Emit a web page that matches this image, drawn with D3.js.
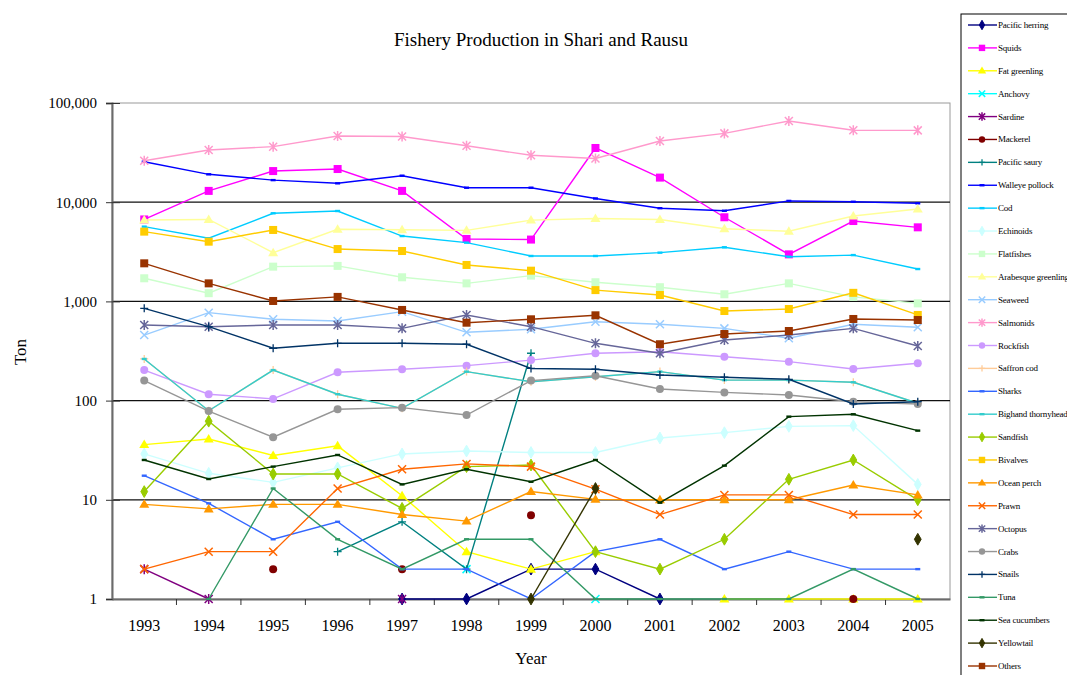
<!DOCTYPE html>
<html>
<head>
<meta charset="utf-8">
<script src="https://cdn.jsdelivr.net/npm/d3@7"></script>
<style>
  body { margin: 0; background: #fff; }
  text { font-family: "Liberation Serif", "Times New Roman", serif; fill: #000; }
</style>
</head>
<body>
<div id="chart"></div>
<script>
// years on the x axis
var years = [1993, 1994, 1995, 1996, 1997, 1998, 1999, 2000, 2001, 2002, 2003, 2004, 2005];

// production in tons, null = no catch recorded
var pacificHerring = [null, null, null, null, 1, 1, 2, 2, 1, null, null, null, null];
var squids = [6700, 13000, 20600, 21600, 13000, 4260, 4200, 35200, 17700, 7050, 2980, 6460, 5580];
var fatGreenling = [36, 41, 28, 35, 11, 3, 2, 3, null, 1, 1, 1, 1];
var anchovy = [null, null, null, null, null, 2, null, 1, null, null, null, null, null];
var sardine = [2, 1, null, null, 1, null, null, null, null, null, null, null, null];
var mackerel = [null, null, 2, null, 2, null, 7, null, null, null, null, 1, null];
var pacificSaury = [null, null, null, 3, 6, 2, 300, null, null, null, null, null, null];
var walleyePollock = [25600, 19100, 16700, 15500, 18500, 14000, 14000, 10900, 8700, 8200, 10300, 10100, 9750];
var cod = [5670, 4330, 7730, 8150, 4560, 3910, 2870, 2870, 3100, 3510, 2820, 2930, 2120];
var echinoids = [29, 18.5, 15, 21, 29, 31, 30, 30, 42, 47.5, 55, 56, 14.3];
var flatfishes = [1710, 1210, 2240, 2280, 1750, 1520, 1820, 1560, 1390, 1180, 1520, 1110, 955];
var arabesqueGreenling = [6610, 6700, 3100, 5330, 5270, 5200, 6600, 6850, 6700, 5400, 5100, 7260, 8530];
var seaweed = [458, 770, 660, 634, 788, 488, 524, 624, 588, 535, 425, 588, 548];
var salmonids = [26200, 33600, 36300, 46500, 46000, 37100, 29700, 27600, 41400, 49400, 65900, 53100, 53000];
var rockfish = [203, 116, 104, 193, 207, 225, 256, 300, 311, 277, 247, 208, 238];
var saffronCod = [263, 79, 203, 116, 83.5, 196, 155, 174, 196, 161, 161, 153, 94];
var sharks = [17.5, 9.2, 4, 6, 2, 2, 1, 3, 4, 2, 3, 2, 2];
var bighandThornyhead = [263, 79, 203, 116, 83.5, 196, 155, 174, 196, 161, 161, 153, 94];
var sandfish = [12.1, 62, 18.2, 18.2, 8.2, 21.6, 22.4, 3, 2, 4, 16.1, 25.2, 10];
var bivalves = [5050, 4000, 5250, 3370, 3220, 2330, 2040, 1300, 1160, 800, 838, 1220, 730];
var oceanPerch = [9, 8.1, 9, 9, 7.1, 6.1, 12.1, 10.1, 10, 10, 10, 14.1, 11.2];
var prawn = [2, 3, 3, 13, 20.3, 23, 21.6, 12.8, 7.1, 11.2, 11.2, 7.1, 7.1];
var octopus = [578, 556, 578, 578, 535, 730, 556, 378, 300, 408, 458, 535, 355];
var crabs = [159, 78.5, 42.7, 81.7, 84.9, 71.6, 159, 178, 131, 121, 114, 97.5, 92.5];
var snails = [852, 556, 337, 378, 378, 370, 211, 207, 181, 172, 164, 92.5, 97.5];
var tuna = [null, 1, 13, 4, 2, 4, 4, 1, 1, 1, 1, 2, 1];
var seaCucumbers = [25.2, 16.2, 21.6, 28.3, 14.3, 20.3, 15.2, 25.2, 9.35, 22.1, 68.9, 72.8, 49.8];
var yellowtail = [null, null, null, null, null, null, 1, 13, null, null, null, null, 4];
var others = [2420, 1520, 1010, 1110, 820, 610, 660, 724, 370, 469, 503, 665, 649];

var yTicks = [1, 10, 100, 1000, 10000, 100000];

// series in Excel drawing order
var series = [
  ["Pacific herring", pacificHerring, "#000080", "diamond"],
  ["Squids", squids, "#FF00FF", "square"],
  ["Fat greenling", fatGreenling, "#FFFF00", "triangle"],
  ["Anchovy", anchovy, "#00FFFF", "x"],
  ["Sardine", sardine, "#800080", "star"],
  ["Mackerel", mackerel, "#800000", "circle"],
  ["Pacific saury", pacificSaury, "#008080", "plus"],
  ["Walleye pollock", walleyePollock, "#0000FF", "dash"],
  ["Cod", cod, "#00CCFF", "dash"],
  ["Echinoids", echinoids, "#CCFFFF", "diamond"],
  ["Flatfishes", flatfishes, "#CCFFCC", "square"],
  ["Arabesque greenling", arabesqueGreenling, "#FFFF99", "triangle"],
  ["Seaweed", seaweed, "#99CCFF", "x"],
  ["Salmonids", salmonids, "#FF99CC", "star"],
  ["Rockfish", rockfish, "#CC99FF", "circle"],
  ["Saffron cod", saffronCod, "#FFCC99", "plus"],
  ["Sharks", sharks, "#3366FF", "dash"],
  ["Bighand thornyhead", bighandThornyhead, "#33CCCC", "dash"],
  ["Sandfish", sandfish, "#99CC00", "diamond"],
  ["Bivalves", bivalves, "#FFCC00", "square"],
  ["Ocean perch", oceanPerch, "#FF9900", "triangle"],
  ["Prawn", prawn, "#FF6600", "x"],
  ["Octopus", octopus, "#666699", "star"],
  ["Crabs", crabs, "#969696", "circle"],
  ["Snails", snails, "#003366", "plus"],
  ["Tuna", tuna, "#339966", "dash"],
  ["Sea cucumbers", seaCucumbers, "#003300", "dash"],
  ["Yellowtail", yellowtail, "#333300", "diamond"],
  ["Others", others, "#993300", "square"]
];

const W = 1067, H = 675;
const plot = { left: 112, right: 950, top: 103, bottom: 599 };

var svg = d3.select("#chart").append("svg")
  .attr("width", W)
  .attr("height", H);

var x = d3.scaleBand()
  .domain(years)
  .range([plot.left, plot.right]);

var y = d3.scaleLog()
  .domain([1, 100000])
  .range([plot.bottom, plot.top]);

var cx = function(yr) { return x(yr) + x.bandwidth() / 2; };

// title
svg.append("text")
  .attr("x", 541)
  .attr("y", 46)
  .attr("text-anchor", "middle")
  .style("font-size", "19px")
  .text("Fishery Production in Shari and Rausu");

// plot frame
svg.append("rect")
  .attr("x", plot.left)
  .attr("y", plot.top)
  .attr("width", plot.right - plot.left)
  .attr("height", plot.bottom - plot.top)
  .attr("fill", "none")
  .attr("stroke", "#9a9a9a")
  .attr("stroke-width", 1);

// gridlines
svg.append("g")
  .selectAll("line")
  .data(yTicks.slice(1, -1))
  .enter()
  .append("line")
  .attr("x1", plot.left)
  .attr("x2", plot.right)
  .attr("y1", d => y(d))
  .attr("y2", d => y(d))
  .attr("stroke", "#111")
  .attr("stroke-width", 1.3);

// y axis
var yAxis = svg.append("g")
  .attr("transform", "translate(" + plot.left + ",0)")
  .call(d3.axisLeft(y).tickValues(yTicks).tickFormat(d3.format(",")).tickSize(6).tickPadding(9));
yAxis.select(".domain").attr("stroke", "#6b6b6b").attr("stroke-width", 2);
yAxis.selectAll(".tick line").attr("stroke", "#333").attr("x2", 8).attr("x1", -6);
yAxis.selectAll(".tick text")
  .style("font-family", "'Liberation Serif', serif")
  .style("font-size", "15px")
  .attr("fill", "#000");

// x axis
var xAxis = svg.append("g")
  .attr("transform", "translate(0," + plot.bottom + ")")
  .call(d3.axisBottom(x).tickSize(0).tickPadding(21));
xAxis.select(".domain").attr("stroke", "#6b6b6b").attr("stroke-width", 2);
xAxis.selectAll(".tick text")
  .style("font-family", "'Liberation Serif', serif")
  .style("font-size", "16px")
  .attr("fill", "#000");

// x ticks between categories
svg.append("g")
  .selectAll("line")
  .data(years.slice(1))
  .enter()
  .append("line")
  .attr("x1", d => x(d))
  .attr("x2", d => x(d))
  .attr("y1", plot.bottom)
  .attr("y2", plot.bottom + 6)
  .attr("stroke", "#333");

// axis titles
svg.append("text")
  .attr("x", 531)
  .attr("y", 664)
  .attr("text-anchor", "middle")
  .style("font-size", "17px")
  .text("Year");

svg.append("text")
  .attr("transform", "translate(26,352) rotate(-90)")
  .attr("text-anchor", "middle")
  .style("font-size", "17px")
  .text("Ton");

// marker drawing
function marker(g, type, color, s) {
  s = s || 1;
  var r = 4 * s;
  if (type === "diamond") {
    g.append("path").attr("d", d3.symbol(d3.symbolDiamond, 40 * s * s)())
      .attr("fill", color).attr("stroke", color);
  } else if (type === "square") {
    g.append("rect").attr("x", -r).attr("y", -r).attr("width", 2 * r).attr("height", 2 * r)
      .attr("fill", color);
  } else if (type === "triangle") {
    g.append("path").attr("d", "M0," + (-r - 1) + "L" + (r + 1) + "," + (r - 0.5) + "L" + (-r - 1) + "," + (r - 0.5) + "Z")
      .attr("fill", color);
  } else if (type === "circle") {
    g.append("circle").attr("r", r).attr("fill", color);
  } else if (type === "x") {
    g.append("path").attr("d", "M" + -r + "," + -r + "L" + r + "," + r + "M" + -r + "," + r + "L" + r + "," + -r)
      .attr("stroke", color).attr("stroke-width", 1.5);
  } else if (type === "star") {
    g.append("path").attr("d", "M" + -r + "," + -r + "L" + r + "," + r + "M" + -r + "," + r + "L" + r + "," + -r + "M0," + (-r - 1) + "L0," + (r + 1))
      .attr("stroke", color).attr("stroke-width", 1.5);
  } else if (type === "plus") {
    g.append("path").attr("d", "M" + -r + ",0L" + r + ",0M0," + -r + "L0," + r)
      .attr("stroke", color).attr("stroke-width", 1.3);
  } else if (type === "dash") {
    g.append("rect").attr("x", -2.5).attr("y", -1.2).attr("width", 5).attr("height", 2.4)
      .attr("fill", color);
  }
}

var line = d3.line()
  .defined(d => d.v != null)
  .x(d => cx(d.year))
  .y(d => y(d.v));

series.forEach(function(s) {
  var pts = years.map((yr, i) => ({ year: yr, v: s[1][i] }));
  var g = svg.append("g").attr("class", "series");
  g.append("path")
    .datum(pts)
    .attr("d", line)
    .attr("fill", "none")
    .attr("stroke", s[2])
    .attr("stroke-width", 1.4);
  g.selectAll(".pt")
    .data(pts.filter(d => d.v != null))
    .enter()
    .append("g")
    .attr("class", "pt")
    .attr("transform", d => "translate(" + cx(d.year) + "," + y(d.v) + ")")
    .each(function() { marker(d3.select(this), s[3], s[2]); });
});

// legend (box runs off the right edge, as in the source)
var legend = svg.append("g");
legend.append("rect")
  .attr("x", 961)
  .attr("y", 14)
  .attr("width", 120)
  .attr("height", 680)
  .attr("fill", "#fff")
  .attr("stroke", "#000")
  .attr("stroke-width", 1);

var ly = d3.scalePoint()
  .domain(series.map(s => s[0]))
  .range([25, 666]);

series.forEach(function(s) {
  var item = legend.append("g").attr("transform", "translate(0," + ly(s[0]) + ")");
  item.append("line")
    .attr("x1", 968).attr("x2", 997)
    .attr("stroke", s[2]).attr("stroke-width", 1.4);
  var m = item.append("g").attr("transform", "translate(982,0)");
  marker(m, s[3], s[2], 0.8);
  item.append("text")
    .attr("x", 998)
    .attr("y", 3)
    .style("font-size", "9px")
    .style("letter-spacing", "-0.2px")
    .text(s[0]);
});
</script>
</body>
</html>
